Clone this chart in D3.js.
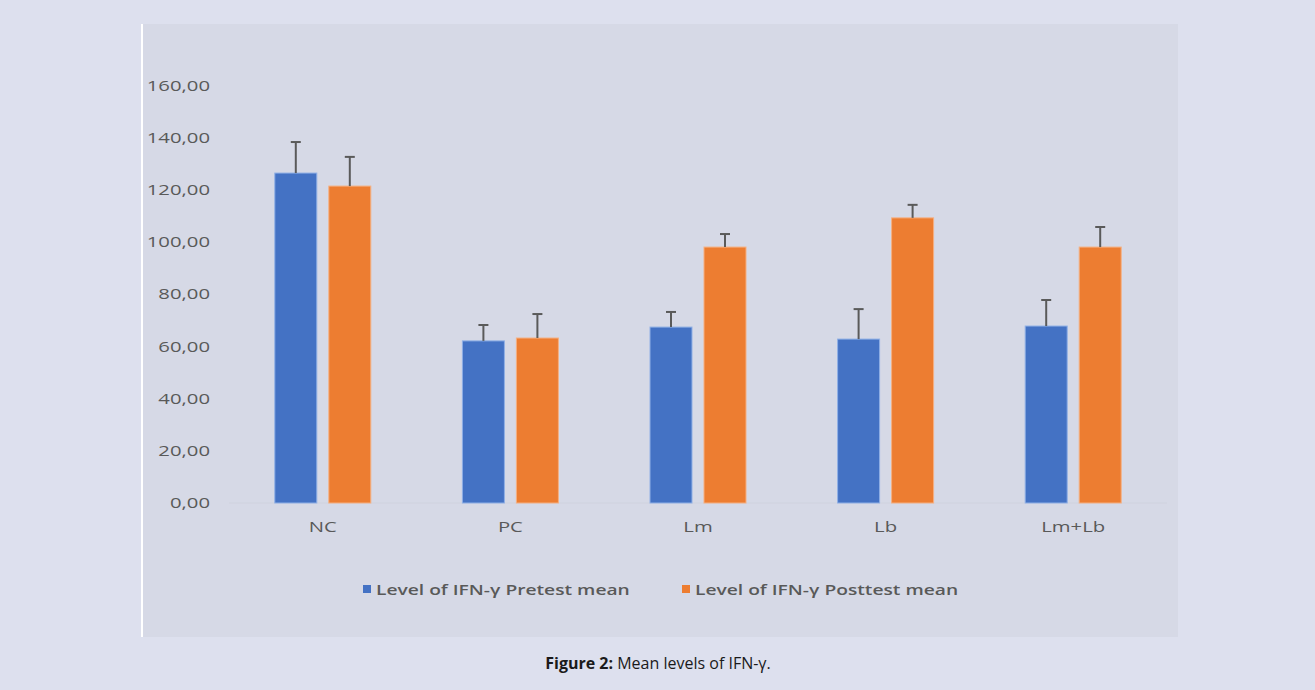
<!DOCTYPE html>
<html>
<head>
<meta charset="utf-8">
<title>IFN-gamma</title>
<style>
  body { margin: 0; background: #dde0ee; }
  svg { display: block; }
</style>
</head>
<body>
<script src="https://cdn.jsdelivr.net/npm/d3@7/dist/d3.min.js"></script>
<script>
// data
var groups = ["NC", "PC", "Lm", "Lb", "Lm+Lb"];
var pretest = [126.6, 62.2, 67.5, 62.9, 67.9];
var pretestErr = [11.9, 6.1, 5.8, 11.5, 10.0];
var posttest = [121.6, 63.3, 98.2, 109.4, 98.2];
var posttestErr = [11.2, 9.2, 5.0, 5.0, 7.7];
var yTicks = [0, 20, 40, 60, 80, 100, 120, 140, 160];
var seriesNames = ["Level of IFN-\u03b3 Pretest mean", "Level of IFN-\u03b3 Posttest mean"];
var colors = ["#4472c4", "#ed7d31"];

var W = 1315, H = 690;
var svg = d3.select("body").append("svg").attr("width", W).attr("height", H);

// panel
svg.append("rect").attr("x", 141).attr("y", 24).attr("width", 1037).attr("height", 613)
    .attr("fill", "#d6d9e6");
svg.append("line").attr("x1", 142).attr("x2", 142).attr("y1", 24).attr("y2", 637)
    .attr("stroke", "#ffffff").attr("stroke-width", 2);

var x = d3.scaleBand().domain(groups).range([229, 1167]).paddingInner(0).paddingOuter(0);
var y = d3.scaleLinear().domain([0, 160]).range([503, 86]);

var barW = 42, gap = 12;
var stretch = "scale(1.45,1)"; // the picture is stretched sideways

// baseline
svg.append("line").attr("x1", 229).attr("x2", 1167).attr("y1", y(0)).attr("y2", y(0))
    .attr("stroke", "#cfd2de").attr("stroke-width", 1);

// y axis labels
var yAxis = d3.axisLeft(y).tickValues(yTicks).tickSize(0).tickPadding(0)
    .tickFormat(function (d) { return d3.format(".2f")(d).replace(".", ","); });
var ga = svg.append("g").attr("transform", "translate(210,0)").call(yAxis);
ga.select(".domain").remove();
ga.selectAll("text").attr("font-family", "'Open Sans', sans-serif").attr("font-size", "14px")
    .attr("fill", "#595959").attr("transform", stretch);

// x axis labels
var xAxis = d3.axisBottom(x).tickSize(0).tickPadding(0);
var gx = svg.append("g").attr("transform", "translate(0,522)").call(xAxis);
gx.select(".domain").remove();
gx.selectAll("text").attr("font-family", "'Open Sans', sans-serif").attr("font-size", "14px")
    .attr("fill", "#595959").attr("transform", stretch);

var series = [
    { vals: pretest, err: pretestErr, off: -gap / 2 - barW },
    { vals: posttest, err: posttestErr, off: gap / 2 }
];

series.forEach(function (s, si) {
    var g = svg.append("g");
    g.selectAll("rect").data(groups).enter().append("rect")
        .attr("x", function (d) { return x(d) + x.bandwidth() / 2 + s.off; })
        .attr("y", function (d, i) { return y(s.vals[i]); })
        .attr("width", barW)
        .attr("height", function (d, i) { return y(0) - y(s.vals[i]); })
        .attr("fill", colors[si])
        .attr("stroke", si == 0 ? "#8fb0e6" : "#f5b081").attr("stroke-width", 1);

    // error bars
    groups.forEach(function (d, i) {
        var cx = x(d) + x.bandwidth() / 2 + s.off + barW / 2;
        var top = y(s.vals[i] + s.err[i]);
        g.append("line").attr("x1", cx).attr("x2", cx).attr("y1", y(s.vals[i])).attr("y2", top)
            .attr("stroke", "#5a5a5a").attr("stroke-width", 2);
        g.append("line").attr("x1", cx - 5).attr("x2", cx + 5).attr("y1", top).attr("y2", top)
            .attr("stroke", "#5a5a5a").attr("stroke-width", 2);
    });
});

// legend
var legX = [363, 682];
seriesNames.forEach(function (n, i) {
    svg.append("rect").attr("x", legX[i]).attr("y", 585).attr("width", 8).attr("height", 8)
        .attr("fill", colors[i]);
    svg.append("text").attr("transform", "translate(" + (legX[i] + 13) + ",595) scale(1.28,1)")
        .text(n)
        .attr("font-family", "'Open Sans', sans-serif").attr("font-size", "15px")
        .attr("font-weight", 600).attr("fill", "#595959");
});

// caption
var cap = svg.append("text").attr("x", 658).attr("y", 669).attr("text-anchor", "middle")
    .attr("font-family", "'Liberation Sans Narrow', 'Open Sans', sans-serif").attr("font-size", "16px")
    .attr("fill", "#1a1a1a");
cap.append("tspan").attr("font-weight", "bold").text("Figure 2:");
cap.append("tspan").text(" Mean levels of IFN-\u03b3.");
</script>
</body>
</html>
